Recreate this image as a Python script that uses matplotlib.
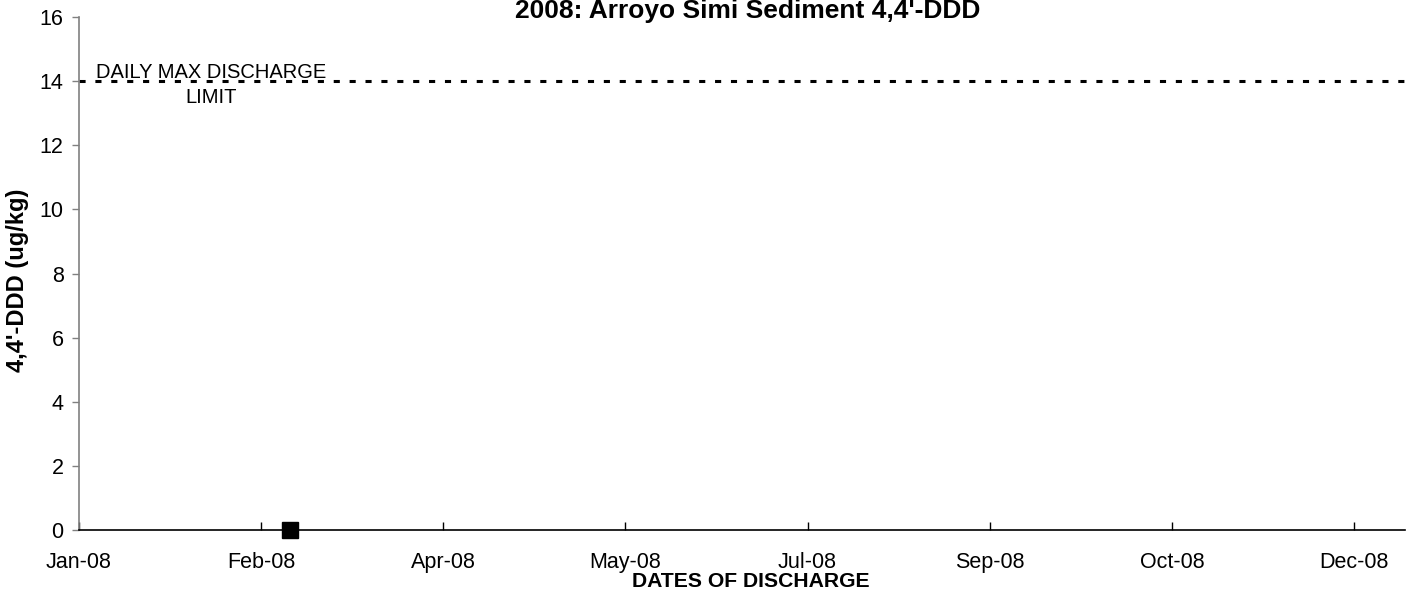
import matplotlib
matplotlib.use("Agg")
import matplotlib.pyplot as plt
import matplotlib.dates as mdates
from matplotlib.ticker import FixedLocator
import datetime as dt

plt.rcParams['font.family'] = ['Liberation Sans', 'DejaVu Sans']

# Data
sample_dates = [dt.date(2008, 2, 28)]
sample_values = [0.0]
limit_value = 14.0
limit_label_lines = ["DAILY MAX DISCHARGE", "LIMIT"]
title = "2008: Arroyo Simi Sediment 4,4'-DDD"
xlabel = "DATES OF DISCHARGE"
ylabel = "4,4'-DDD (ug/kg)"
x_start = dt.date(2008, 1, 1)
x_end = dt.date(2008, 12, 30)
tick_step_days = 50
y_ticks = [0, 2, 4, 6, 8, 10, 12, 14, 16]

W, H = 1411, 598
fig = plt.figure(figsize=(W/100, H/100), dpi=100)
ax = fig.add_axes([79/W, 1-530/H, (1405-79)/W, (530-17)/H])

x0 = mdates.date2num(x_start)
x1 = mdates.date2num(x_end)
ax.set_xlim(x0, x1)
ax.set_ylim(0, 16)

ax.plot(mdates.date2num(sample_dates), sample_values, linestyle='none',
        marker='s', markersize=11, color='black', clip_on=False, zorder=5)

ax.plot([x0, x1], [limit_value, limit_value], color='black', lw=2.2,
        linestyle=(0, (2, 3.2)), clip_on=False)

def pix_to_y(p):
    return 16 - (p - 17) / 513 * 16

ax.text(x0 + 36.3, pix_to_y(78), limit_label_lines[0], ha='center', va='baseline',
        fontsize=14.5)
ax.text(x0 + 36.3, pix_to_y(103), limit_label_lines[1], ha='center', va='baseline',
        fontsize=14.5)

ticks = []
t = x0
while t <= x1 + 0.01:
    ticks.append(t)
    t += tick_step_days
ax.xaxis.set_major_locator(FixedLocator(ticks))
ax.xaxis.set_major_formatter(mdates.DateFormatter('%b-%y'))
ax.set_yticks(y_ticks)

for s in ['top', 'right']:
    ax.spines[s].set_visible(False)
ax.spines['left'].set_color('#808080')
ax.spines['bottom'].set_color('black')
ax.spines['left'].set_linewidth(1.2)
ax.spines['bottom'].set_linewidth(1.2)

ax.tick_params(axis='y', direction='out', length=5, width=1, color='#808080',
               labelsize=15.5, pad=6)
ax.tick_params(axis='x', direction='in', length=6, width=1, color='black',
               labelsize=15.5, pad=16)

fig.text(748/W, 1-18/H, title, ha='center', va='baseline',
         fontsize=19, fontweight='bold')
fig.text(751/W, 1-587/H, xlabel, ha='center', va='baseline',
         fontsize=15.2, fontweight='bold')
fig.text(18/W, 1-280/H, ylabel, ha='center', va='center',
         fontsize=17, fontweight='bold', rotation=90)

fig.savefig('out.png', dpi=100)
